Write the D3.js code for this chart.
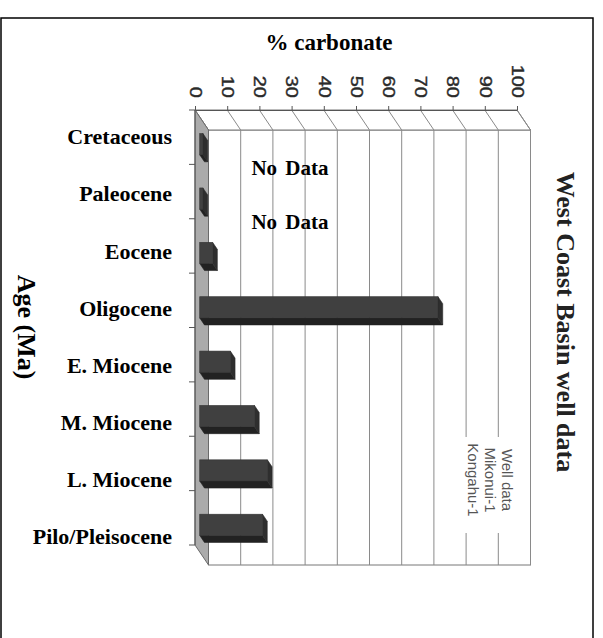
<!DOCTYPE html>
<html>
<head>
<meta charset="utf-8">
<script src="https://cdn.jsdelivr.net/npm/d3@7"></script>
<style>
  html, body { margin: 0; padding: 0; background: #fff; }
  svg { display: block; }
</style>
</head>
<body>
<svg id="chart" width="603" height="638"></svg>
<script>
// Geological ages (top to bottom) and % carbonate measured in well samples
const categories = ["Cretaceous", "Paleocene", "Eocene", "Oligocene",
                    "E. Miocene", "M. Miocene", "L. Miocene", "Pilo/Pleisocene"];
const carbonate = [1, 1, 4, 74, 9.5, 17, 21, 19.5];
const noDataAges = ["Cretaceous", "Paleocene"];
const valueTicks = [0, 10, 20, 30, 40, 50, 60, 70, 80, 90, 100];
const legendLabels = ["Well data", "Mikonui-1", "Kongahu-1"];

const svg = d3.select("#chart");
const serif = "'Liberation Serif', 'Times New Roman', serif";
const sans = "'Liberation Sans', Arial, sans-serif";

// Plot frame: front plane plus an oblique depth offset (rotated 3D column chart)
const pLeft = 195, pRight = 517, pTop = 110, pBottom = 545;
const DX = 13.5, DY = 20;          // full depth offset
const f0 = 0.35, f1 = 0.70;        // depth range occupied by bars

const x = d3.scaleLinear().domain([0, 100]).range([pLeft, pRight]);
const y = d3.scaleBand().domain(categories).range([pTop, pBottom]);
const labelY = d3.scalePoint().domain(categories).range([137, 537]);

// Outer border
svg.append("rect")
  .attr("x", 1).attr("y", 18).attr("width", 592).attr("height", 640)
  .attr("fill", "#fff").attr("stroke", "#000").attr("stroke-width", 1.5);

const plot = svg.append("g");
const grid = "#8a8a8a";

// Back wall
plot.append("rect")
  .attr("x", pLeft + DX).attr("y", pTop + DY)
  .attr("width", pRight - pLeft).attr("height", pBottom - pTop)
  .attr("fill", "#fff").attr("stroke", "#777").attr("stroke-width", 1);

// Top side wall (value axis side)
plot.append("path")
  .attr("d", `M${pLeft},${pTop}L${pRight},${pTop}L${pRight + DX},${pTop + DY}L${pLeft + DX},${pTop + DY}Z`)
  .attr("fill", "#fff").attr("stroke", "#777");

// Gridlines on back wall and their diagonals across the side wall
plot.selectAll("line.grid").data(valueTicks).join("line")
  .attr("class", "grid")
  .attr("x1", d => x(d) + DX).attr("x2", d => x(d) + DX)
  .attr("y1", pTop + DY).attr("y2", pBottom + DY)
  .attr("stroke", grid).attr("stroke-width", 1);
plot.selectAll("line.diag").data(valueTicks).join("line")
  .attr("class", "diag")
  .attr("x1", d => x(d)).attr("x2", d => x(d) + DX)
  .attr("y1", pTop).attr("y2", pTop + DY)
  .attr("stroke", grid).attr("stroke-width", 1);

// Floor (value = 0 plane)
plot.append("path")
  .attr("d", `M${pLeft},${pTop}L${pLeft + DX},${pTop + DY}L${pLeft + DX},${pBottom + DY}L${pLeft},${pBottom}Z`)
  .attr("fill", "#ababab").attr("stroke", "#6a6a6a").attr("stroke-width", 1);

// Legend box (blank background over the gridlines)
const legend = plot.append("g");
legend.append("rect")
  .attr("x", 458).attr("y", 437).attr("width", 64).attr("height", 96)
  .attr("fill", "#fff");
legend.selectAll("text").data(legendLabels).join("text")
  .attr("transform", (d, i) => `translate(${502 - i * 17},480) rotate(90)`)
  .attr("text-anchor", "middle")
  .attr("font-family", sans).attr("font-size", 15).attr("fill", "#555")
  .text(d => d);

// 3D bars
const barH = y.bandwidth() * 0.39;
const ox0 = f0 * DX, oy0 = f0 * DY, ox1 = f1 * DX, oy1 = f1 * DY;
const bars = plot.selectAll("g.bar").data(categories.map((c, i) => ({ c, v: carbonate[i] })))
  .join("g").attr("class", "bar");
bars.each(function (d) {
  const g = d3.select(this);
  const yt = y(d.c) + (y.bandwidth() - barH) / 2;
  const yb = yt + barH;
  const x0 = x(0), xv = x(d.v);
  // bottom face
  g.append("path")
    .attr("d", `M${x0 + ox0},${yb + oy0}L${xv + ox0},${yb + oy0}L${xv + ox1},${yb + oy1}L${x0 + ox1},${yb + oy1}Z`)
    .attr("fill", "#222").attr("stroke", "#222").attr("stroke-width", 0.6);
  // end cap
  g.append("path")
    .attr("d", `M${xv + ox0},${yt + oy0}L${xv + ox1},${yt + oy1}L${xv + ox1},${yb + oy1}L${xv + ox0},${yb + oy0}Z`)
    .attr("fill", "#2e2e2e").attr("stroke", "#2a2a2a").attr("stroke-width", 0.6);
  // front face
  g.append("rect")
    .attr("x", x0 + ox0).attr("y", yt + oy0)
    .attr("width", xv - x0).attr("height", barH)
    .attr("fill", "#404040").attr("stroke", "#333").attr("stroke-width", 0.6);
});

// Value axis along the top; labels run downward toward the axis line
const xAxis = plot.append("g")
  .attr("transform", `translate(0,${pTop})`)
  .call(d3.axisTop(x).tickValues(valueTicks).tickSize(4).tickSizeOuter(0));
xAxis.select(".domain").attr("stroke", "#555");
xAxis.selectAll(".tick line").attr("stroke", "#555");
xAxis.selectAll(".tick text")
  .attr("x", 0).attr("y", 0).attr("dy", "0.35em")
  .attr("transform", "translate(0,-12) rotate(90) scale(1.25,1)")
  .attr("text-anchor", "end")
  .attr("font-family", sans).attr("font-size", 16).attr("fill", "#2a2a2a")
  .attr("stroke", "#2a2a2a").attr("stroke-width", 0.4);

// Category axis line and boundary ticks
plot.append("line")
  .attr("x1", pLeft).attr("x2", pLeft).attr("y1", pTop).attr("y2", pBottom)
  .attr("stroke", "#555");
const bounds = categories.map(c => y(c) + y.bandwidth()).concat([pTop]);
plot.selectAll("line.ctick").data(bounds).join("line")
  .attr("class", "ctick")
  .attr("x1", pLeft - 6).attr("x2", pLeft).attr("y1", d => d).attr("y2", d => d)
  .attr("stroke", "#555");

// Category labels
svg.selectAll("text.cat").data(categories).join("text")
  .attr("class", "cat")
  .attr("x", 172).attr("y", d => labelY(d)).attr("dy", "0.33em")
  .attr("text-anchor", "end")
  .attr("font-family", serif).attr("font-weight", "bold").attr("font-size", 22)
  .text(d => d);

// "No Data" notes for ages without samples
svg.selectAll("text.nodata").data(noDataAges).join("text")
  .attr("class", "nodata")
  .attr("x", 290).attr("y", d => y(d) + y.bandwidth() / 2 + DY + 11).attr("dy", "0.33em")
  .attr("text-anchor", "middle")
  .attr("font-family", serif).attr("font-weight", "bold").attr("font-size", 21)
  .attr("word-spacing", 3)
  .text("No Data");

// Titles
svg.append("text")
  .attr("x", 329).attr("y", 50).attr("text-anchor", "middle")
  .attr("font-family", serif).attr("font-weight", "bold").attr("font-size", 23)
  .text("% carbonate");
svg.append("text")
  .attr("transform", "translate(18,327) rotate(90)").attr("text-anchor", "middle")
  .attr("font-family", serif).attr("font-weight", "bold").attr("font-size", 26)
  .text("Age (Ma)");
svg.append("text")
  .attr("transform", "translate(557,322) rotate(90)").attr("text-anchor", "middle")
  .attr("font-family", serif).attr("font-weight", "bold").attr("font-size", 26)
  .attr("fill", "#222")
  .text("West Coast Basin well data");
</script>
</body>
</html>
